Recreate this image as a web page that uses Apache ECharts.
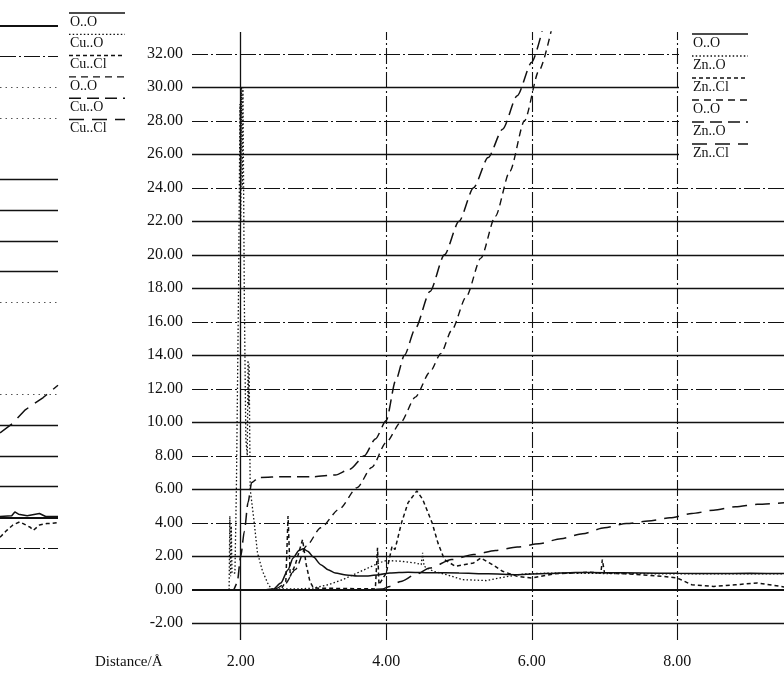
<!DOCTYPE html>
<html>
<head>
<meta charset="utf-8">
<script src="https://cdn.jsdelivr.net/npm/echarts@6/dist/echarts.min.js"></script>
<style>html,body{margin:0;padding:0;background:#fff;}#c{width:784px;height:673px;}</style>
</head>
<body>
<div id="c"></div>
<script>
// ---- tick labels ----
const xTicks = [2, 4, 6, 8];
const yTicks = [-2, 0, 2, 4, 6, 8, 10, 12, 14, 16, 18, 20, 22, 24, 26, 28, 30, 32];
const leftYTicks = [-2, 0, 2, 4, 6, 8, 10, 12, 14, 16, 18, 20, 22, 24, 26, 28, 30, 32];

// ---- legend names ----
const rightNames = ['O..O', 'Zn..O', 'Zn..Cl', 'O..O', 'Zn..O', 'Zn..Cl'];
const leftNames = ['O..O', 'Cu..O', 'Cu..Cl', 'O..O', 'Cu..O', 'Cu..Cl'];
const axisName = 'Distance/Å';

// ---- right panel series: [distance, value] ----
const ooG = [[1.33,0],[2.35,0],[2.45,0.05],[2.55,0.4],[2.65,1.2],[2.72,1.9],[2.8,2.35],[2.86,2.45],[2.92,2.3],[3.0,1.95],[3.1,1.5],[3.2,1.2],[3.3,1.0],[3.45,0.88],[3.6,0.82],[3.75,0.82],[3.9,0.9],[4.05,1.0],[4.3,1.05],[4.6,1.02],[5.0,1.0],[5.4,0.95],[5.8,0.9],[6.2,0.97],[6.6,1.03],[7.0,1.02],[7.5,1.0],[8.0,0.98],[8.5,0.97],[9.0,0.98],[9.5,0.97]];
const znoG = [[1.33,0],[1.84,0],[1.85,4.4],[1.86,0.8],[1.87,3.8],[1.88,1.0],[1.92,1.0],[1.94,6],[1.97,18],[1.99,29],[2.0,22],[2.01,30],[2.02,24],[2.03,30],[2.05,17],[2.07,9],[2.09,8],[2.1,13.7],[2.11,11],[2.115,13.5],[2.12,11],[2.13,6],[2.18,4.2],[2.23,2.2],[2.3,1.1],[2.37,0.4],[2.42,0.05],[2.8,0.05],[3.0,0.1],[3.2,0.3],[3.4,0.6],[3.6,1.0],[3.8,1.4],[3.9,1.6],[4.0,1.75],[4.2,1.7],[4.4,1.6],[4.48,1.5],[4.5,2.2],[4.52,1.4],[4.65,1.1],[4.83,0.9],[5.05,0.6],[5.38,0.55],[5.65,0.78],[5.9,0.95],[6.3,1.0],[7.0,0.97],[8.0,0.95],[9.0,0.95],[9.5,0.95]];
const znclG = [[1.33,0],[2.55,0],[2.62,0.5],[2.65,4.4],[2.68,0.8],[2.75,1.5],[2.85,3.0],[2.9,1.5],[2.95,0.5],[3.0,0.1],[3.85,0.05],[3.88,2.5],[3.9,0.3],[4.0,1.0],[4.08,2.6],[4.12,2.4],[4.21,4.0],[4.3,5.2],[4.42,5.9],[4.5,5.4],[4.63,4.0],[4.71,2.8],[4.8,1.8],[4.95,1.4],[5.2,1.6],[5.3,1.9],[5.46,1.5],[5.6,1.1],[5.8,0.8],[6.0,0.7],[6.3,0.95],[6.8,1.05],[6.95,1.0],[6.97,1.8],[7.0,1.0],[7.3,0.95],[7.8,0.8],[8.0,0.7],[8.2,0.3],[8.5,0.2],[8.8,0.3],[9.1,0.4],[9.5,0.15]];
const ooN = [[1.33,0],[2.45,0],[2.6,0.3],[2.75,1.2],[2.9,2.6],[3.1,3.7],[3.35,4.8],[3.6,6.1],[3.8,7.3],[4.0,8.8],[4.2,10.0],[4.4,11.5],[4.6,13.0],[4.75,14.1],[4.9,15.5],[5.1,17.5],[5.3,19.8],[5.5,22.3],[5.7,25.0],[5.9,28.0],[6.1,31.0],[6.3,34]];
const znoN = [[1.33,0],[1.9,0],[1.95,0.4],[2.0,2.0],[2.05,3.5],[2.1,5.2],[2.15,6.4],[2.25,6.7],[2.6,6.75],[3.0,6.75],[3.3,6.85],[3.5,7.2],[3.7,8.0],[3.85,9.0],[4.0,10.1],[4.13,12.5],[4.25,14.0],[4.4,15.6],[4.6,17.8],[4.8,20.0],[5.0,22.0],[5.2,24.0],[5.4,25.8],[5.6,27.5],[5.8,29.5],[6.0,31.5],[6.15,33.5]];
const znclN = [[1.33,0],[3.8,0],[3.95,0.05],[4.05,0.2],[4.2,0.5],[4.4,0.9],[4.6,1.3],[4.9,1.8],[5.2,2.1],[5.5,2.35],[5.8,2.55],[6.1,2.75],[6.4,3.05],[6.7,3.35],[7.0,3.7],[7.3,3.95],[7.6,4.1],[7.9,4.3],[8.2,4.55],[8.5,4.75],[8.8,4.95],[9.1,5.1],[9.5,5.2]];

// ---- left panel (partly visible) series ----
const leftOOG = [[9.06,0.05],[9.25,0.1],[9.3,0.35],[9.36,0.2],[9.5,0.1],[9.7,0.25],[9.8,0.05],[10,0.05]];
const leftCuClG = [[9.06,-1.3],[9.17,-0.85],[9.27,-0.5],[9.38,-0.3],[9.55,-0.65],[9.6,-0.85],[9.7,-0.5],[9.82,-0.4],[9.9,-0.4],[10,-0.35]];
const leftCuClN = [[9.06,5.5],[9.26,6.1],[9.47,7.0],[9.76,7.8],[10,8.6]];

// ---- styles ----
const INK = '#111';
const FONT = '"Liberation Serif", "Times New Roman", serif';
const DASHDOT = [16, 3, 2, 3];
const lineTypes = ['solid', [1.5, 2.2], [4, 3], [7, 5], [12, 6], [15, 8]];
const lineWidths = [1.5, 1.3, 1.5, 1.4, 1.5, 1.5];

function rightHStyle(v) {
  if (v === 0) return { type: 'solid', width: 1.8, color: INK };
  if (v % 4 === 0 && v !== 20) return { type: DASHDOT, width: 1.1, color: INK };
  return { type: 'solid', width: 1.3, color: INK };
}
const leftStyleMap = { 32: 's', 30: 'dd', 28: 'dot', 26: 'dot', 24: 'none', 22: 's', 20: 's', 18: 's', 16: 's', 14: 'dot', 12: 'none', 10: 'none', 8: 'dot', 6: 's', 4: 's', 2: 's', 0: 's', '-2': 'dd' };
function leftHStyle(v) {
  const k = leftStyleMap[v];
  if (k === 'dd') return { type: DASHDOT, width: 1.1, color: INK };
  if (k === 'dot') return { type: [1.5, 4], width: 1, color: '#555' };
  if (k === 'none') return { type: 'solid', width: 0, opacity: 0, color: '#fff' };
  return { type: 'solid', width: v === 0 || v === 32 ? 1.8 : 1.3, color: INK };
}
function rightVStyle(v) {
  return v === 2 ? { type: 'solid', width: 1.3, color: INK } : { type: DASHDOT, width: 1.1, color: INK };
}

const chart = echarts.init(document.getElementById('c'), null, { renderer: 'canvas' });

function dataSeries(name, data, idx, axisIdx, smooth) {
  return {
    name: name, type: 'line', data: data, xAxisIndex: axisIdx, yAxisIndex: axisIdx,
    showSymbol: false, symbol: 'none', smooth: smooth ? 0.25 : false, smoothMonotone: 'x',
    clip: true, z: 3,
    lineStyle: { color: INK, width: lineWidths[idx], type: lineTypes[idx] }
  };
}

const gridSeriesRight = {
  type: 'line', data: [], xAxisIndex: 1, yAxisIndex: 1, silent: true, z: 1,
  markLine: {
    silent: true, symbol: ['none', 'none'], label: { show: false }, animation: false,
    data: yTicks.map(v => ({ yAxis: v, lineStyle: rightHStyle(v) }))
      .concat(xTicks.map(v => ({ xAxis: v, lineStyle: rightVStyle(v) })))
  }
};
const gridSeriesLeft = {
  type: 'line', data: [], xAxisIndex: 0, yAxisIndex: 0, silent: true, z: 1,
  markLine: {
    silent: true, symbol: ['none', 'none'], label: { show: false }, animation: false,
    data: leftYTicks.map(v => ({ yAxis: v, lineStyle: leftHStyle(v) }))
  }
};

function legendGraphic(names, x, y0, gap, len, fontSize) {
  const els = [];
  names.forEach((n, i) => {
    const cy = y0 + i * gap;
    els.push({
      type: 'line', z: 51,
      shape: { x1: x, y1: cy - 9, x2: x + len, y2: cy - 9 },
      style: { stroke: INK, lineWidth: lineWidths[i], lineDash: lineTypes[i] === 'solid' ? null : lineTypes[i] }
    });
    els.push({
      type: 'text', z: 51, x: x + 1, y: cy,
      style: { text: n, font: fontSize + 'px ' + FONT, fill: INK, textVerticalAlign: 'middle', textAlign: 'left' }
    });
  });
  return els;
}

const option = {
  animation: false,
  backgroundColor: '#fff',
  grid: [
    { left: 0, width: 58, top: 26, height: 522 },
    { left: 192, right: 0, top: 32, height: 608 }
  ],
  xAxis: [
    { type: 'value', gridIndex: 0, min: 9.06, max: 10, show: false },
    {
      type: 'value', gridIndex: 1, min: 1.33, max: 9.467,
      axisLine: { show: false }, axisTick: { show: false }, splitLine: { show: false },
      axisLabel: { customValues: xTicks, margin: 14, color: INK, fontFamily: FONT, fontSize: 16, formatter: v => v.toFixed(2) }
    }
  ],
  yAxis: [
    { type: 'value', gridIndex: 0, min: -2, max: 32, show: false },
    {
      type: 'value', gridIndex: 1, min: -3, max: 33.3,
      axisLine: { show: false }, axisTick: { show: false }, splitLine: { show: false },
      axisLabel: { customValues: yTicks, margin: 9, color: INK, fontFamily: FONT, fontSize: 16, formatter: v => v.toFixed(2) }
    }
  ],
  graphic: [
    { type: 'rect', z: 50, shape: { x: 679, y: 27, width: 110, height: 141 }, style: { fill: '#fff' } },
    { type: 'text', z: 51, x: 95, y: 662, style: { text: axisName, font: '15px ' + FONT, fill: INK, textVerticalAlign: 'middle' } }
  ].concat(legendGraphic(rightNames, 692, 43, 22, 56, 14))
   .concat(legendGraphic(leftNames, 69, 22, 21.3, 56, 14)),
  series: [
    gridSeriesLeft,
    gridSeriesRight,
    dataSeries(rightNames[0], ooG, 0, 1, true),
    dataSeries(rightNames[1], znoG, 1, 1, false),
    dataSeries(rightNames[2], znclG, 2, 1, false),
    dataSeries(rightNames[3], ooN, 3, 1, true),
    dataSeries(rightNames[4], znoN, 4, 1, true),
    dataSeries(rightNames[5], znclN, 5, 1, true),
    dataSeries(leftNames[0], leftOOG, 0, 0, false),
    dataSeries(leftNames[2], leftCuClG, 2, 0, false),
    dataSeries(leftNames[5], leftCuClN, 5, 0, false)
  ]
};
chart.setOption(option);
</script>
</body>
</html>
